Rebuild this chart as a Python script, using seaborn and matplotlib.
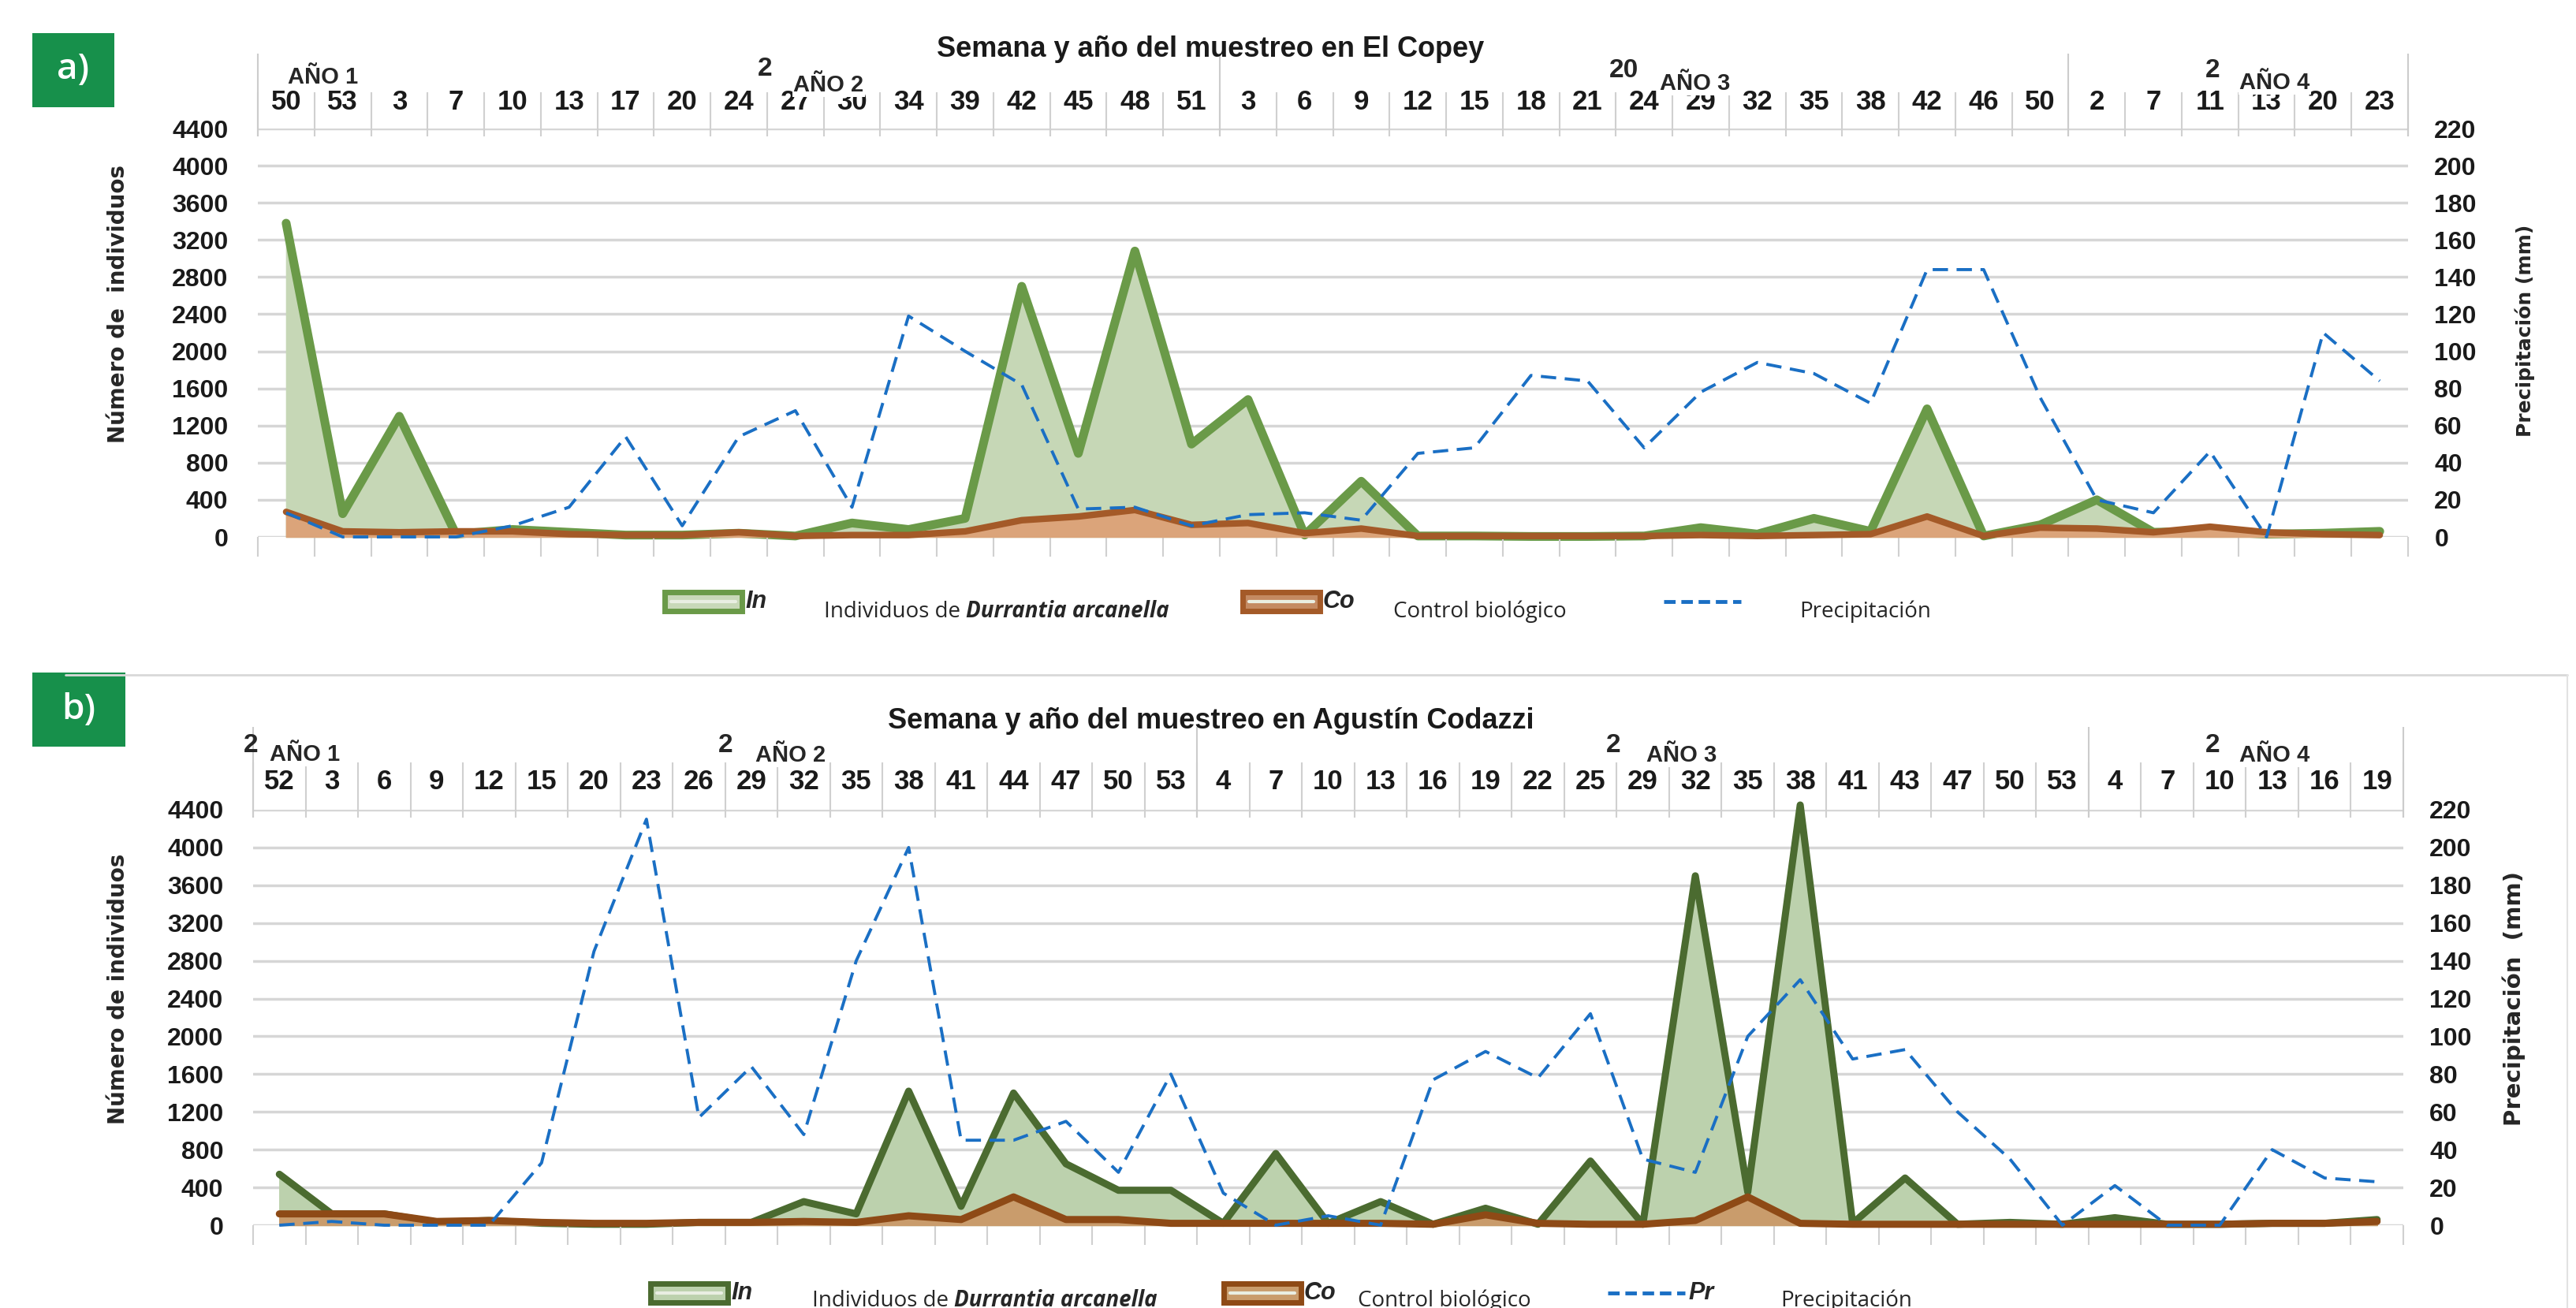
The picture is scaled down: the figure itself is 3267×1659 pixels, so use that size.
import numpy as np
import pandas as pd
import seaborn as sns
import matplotlib.pyplot as plt
from matplotlib.patches import Rectangle
from matplotlib.lines import Line2D

# ---- data ----
weeks_a = [50, 53, 3, 7, 10, 13, 17, 20, 24, 27, 30, 34, 39, 42, 45, 48, 51,
           3, 6, 9, 12, 15, 18, 21, 24, 29, 32, 35, 38, 42, 46, 50,
           2, 7, 11, 13, 20, 23]
ind_a = [3380, 250, 1300, 30, 80, 50, 20, 20, 40, 10, 150, 80, 200, 2700, 900, 3080, 1000,
         1480, 20, 600, 10, 10, 5, 5, 10, 100, 30, 200, 60, 1380, 10, 130,
         400, 50, 60, 30, 40, 60]
ctrl_a = [270, 60, 50, 60, 60, 30, 20, 20, 50, 10, 20, 20, 60, 180, 220, 290, 130,
          150, 40, 90, 10, 10, 10, 10, 10, 20, 10, 20, 30, 220, 10, 100,
          90, 50, 110, 50, 30, 20]
prec_a = [13, 0, 0, 0, 6, 16, 54, 6, 54, 68, 16, 119, 100, 82, 15, 16, 6,
          12, 13, 9, 45, 48, 87, 84, 48, 78, 94, 88, 72, 144, 144, 75,
          20, 13, 46, 0, 110, 84]

weeks_b = [52, 3, 6, 9, 12, 15, 20, 23, 26, 29, 32, 35, 38, 41, 44, 47, 50, 53,
           4, 7, 10, 13, 16, 19, 22, 25, 29, 32, 35, 38, 41, 43, 47, 50, 53,
           4, 7, 10, 13, 16, 19]
ind_b = [540, 120, 120, 30, 50, 20, 10, 10, 30, 30, 250, 120, 1420, 200, 1400, 650, 370, 370,
         20, 760, 20, 250, 10, 180, 10, 680, 10, 3700, 350, 4450, 20, 500, 10, 30, 10,
         80, 10, 10, 20, 20, 60]
ctrl_b = [120, 120, 120, 40, 50, 30, 20, 20, 30, 30, 40, 30, 100, 60, 300, 60, 60, 20,
          20, 20, 20, 20, 10, 110, 20, 10, 10, 50, 300, 20, 10, 10, 10, 10, 10,
          10, 10, 10, 20, 20, 40]
prec_b = [0, 2, 0, 0, 0, 33, 145, 215, 57, 84, 48, 140, 200, 45, 45, 55, 28, 80,
          17, 0, 5, 0, 77, 92, 78, 112, 35, 28, 100, 130, 88, 93, 60, 35, 0,
          21, 0, 0, 40, 25, 23]

year_sizes_a = [17, 15, 6]
year_sizes_b = [18, 17, 6]
year_names = ['AÑO 1', 'AÑO 2', 'AÑO 3', 'AÑO 4']

W, H = 3267, 1659

sns.set_theme(style='white')
plt.rcParams['font.family'] = ['Liberation Sans', 'DejaVu Sans']
NARROW = ['Liberation Sans Narrow', 'Liberation Sans', 'DejaVu Sans']


def fx(px):
    return px / W


def fy(py):
    return 1 - py / H


fig = plt.figure(figsize=(W / 100, H / 100), dpi=100)


def draw_panel(box, weeks, ind, ctrl, prec, year_sizes, st):
    left, top, right, bottom = box
    ax = fig.add_axes([fx(left), fy(bottom), fx(right - left), (bottom - top) / H])
    hpx = bottom - top
    n = len(weeks)
    df = pd.DataFrame({'pos': np.arange(n), 'ind': ind, 'ctrl': ctrl, 'prec': prec})

    ax.fill_between(df['pos'], df['ind'], color=st['g_fill'], zorder=1, clip_on=False)
    sns.lineplot(data=df, x='pos', y='ind', color=st['g_line'], lw=st['g_lw'],
                 ax=ax, zorder=2, clip_on=False)
    ax.fill_between(df['pos'], df['ctrl'], color=st['b_fill'], zorder=3, clip_on=False)
    sns.lineplot(data=df, x='pos', y='ctrl', color=st['b_line'], lw=st['b_lw'],
                 ax=ax, zorder=4, clip_on=False)

    ax.set_xlim(-0.5, n - 0.5)
    ax.set_ylim(0, 4400)
    ax.set_yticks(range(0, 4401, 400))
    ax.grid(axis='y', color='#d6d6d6', lw=2.5)
    ax.grid(axis='x', visible=False)
    ax.set_axisbelow(True)
    ax.set_xlabel('')
    ax.set_ylabel('')
    ax.xaxis.tick_top()
    ax.set_xticks(range(n))
    ax.set_xticklabels([str(w) for w in weeks], fontsize=25, family=NARROW,
                       weight='bold', color='#1a1a1a')
    ax.tick_params(axis='x', length=0, pad=st['xpad'])
    ax.tick_params(axis='y', length=0, pad=27, labelcolor='#1a1a1a')
    for lab in ax.get_yticklabels():
        lab.set_fontsize(23)
        lab.set_fontweight('bold')
        lab.set_family(NARROW[1:])
    for s in ax.spines.values():
        s.set_visible(False)

    # header separators and bottom tick marks
    bounds = np.arange(n + 1) - 0.5
    trans = ax.get_xaxis_transform()
    ax.vlines(bounds, 1 - 10 / hpx, 1 + st['sep_top'] / hpx, transform=trans,
              clip_on=False, color='#d0d0d0', lw=1.5)
    ax.vlines(bounds, -25 / hpx, 0, transform=trans, clip_on=False, color='#d0d0d0', lw=1.5)
    yb = np.concatenate([[0], np.cumsum(year_sizes)]) - 0.5
    ax.vlines(yb, 1 - 10 / hpx, 1 + st['year_top'] / hpx, transform=trans,
              clip_on=False, color='#cccccc', lw=1.5)

    ax2 = ax.twinx()
    sns.lineplot(data=df, x='pos', y='prec', color='#1a6fc4', lw=2.8, ax=ax2,
                 dashes=False, clip_on=False, zorder=5)
    ax2.lines[0].set_dashes((5, 2.8))
    ax2.set_ylim(0, 220)
    ax2.set_yticks(range(0, 221, 20))
    ax2.set_xlabel('')
    ax2.set_ylabel('')
    ax2.tick_params(axis='y', length=0, pad=24, labelcolor='#1a1a1a')
    for lab in ax2.get_yticklabels():
        lab.set_fontsize(23)
        lab.set_fontweight('bold')
        lab.set_family(NARROW[1:])
    ax2.grid(False)
    for s in ax2.spines.values():
        s.set_visible(False)
    return ax


style_a = dict(g_fill='#c6d7b6', g_line='#6a9a48', g_lw=8, b_fill='#dba47a',
               b_line='#a45a28', b_lw=6, xpad=12, sep_top=46, year_top=95)
style_b = dict(g_fill='#bcd1ad', g_line='#4b6b30', g_lw=6.5, b_fill='#c99c6c',
               b_line='#8e4a16', b_lw=6.5, xpad=14, sep_top=60, year_top=105)

ax_a = draw_panel((327, 163, 3054, 681), weeks_a, ind_a, ctrl_a, prec_a, year_sizes_a, style_a)
ax_b = draw_panel((321, 1027, 3048, 1554), weeks_b, ind_b, ctrl_b, prec_b, year_sizes_b, style_b)

# frame of panel b
fig.add_artist(Line2D([fx(83), fx(3256)], [fy(856), fy(856)], transform=fig.transFigure,
                      color='#d8d8d8', lw=2))
fig.add_artist(Line2D([fx(3256), fx(3256)], [fy(856), fy(1659)], transform=fig.transFigure,
                      color='#e2e2e2', lw=1.5))

# titles
fig.text(fx(1535), fy(63), 'Semana y año del muestreo en El Copey', ha='center', va='center',
         weight='bold', size=26, color='#1a1a1a')
fig.text(fx(1536), fy(915), 'Semana y año del muestreo en Agustín Codazzi', ha='center',
         va='center', weight='bold', size=26, color='#1a1a1a')

# year labels (year numbers partly hidden behind the "AÑO n" boxes)
stubs = [(970, 88, '2'), (2060, 89, '20'), (2806, 89, '2'),
         (318, 946, '2'), (920, 946, '2'), (2046, 946, '2'), (2806, 946, '2')]
for x, y, s in stubs:
    fig.text(fx(x), fy(y), s, ha='center', va='center', size=24, weight='bold', family=NARROW)
anos = [(410, 98), (1051, 108), (2150, 106), (2885, 105),
        (387, 957), (1003, 958), (2133, 958), (2885, 958)]
for i, (x, y) in enumerate(anos):
    fig.text(fx(x), fy(y), year_names[i % 4], ha='center', va='center', size=21,
             weight='bold', family=NARROW,
             bbox=dict(facecolor='white', edgecolor='none', pad=1))

# axis labels
fig.text(fx(150), fy(385), 'Número de  individuos', rotation=90, ha='center', va='center',
         weight='bold', size=20, family='DejaVu Sans')
fig.text(fx(150), fy(1254), 'Número de individuos', rotation=90, ha='center', va='center',
         weight='bold', size=20, family='DejaVu Sans')
fig.text(fx(3202), fy(419), 'Precipitación (mm)', rotation=90, ha='center', va='center',
         weight='bold', size=18, family='DejaVu Sans')
fig.text(fx(3188), fy(1266), 'Precipitación  (mm)', rotation=90, ha='center', va='center',
         weight='bold', size=21, family='DejaVu Sans')

# panel tags
for (x0, y0, x1, y1, tag) in [(41, 42, 145, 136, 'a)'), (41, 853, 159, 947, 'b)')]:
    fig.add_artist(Rectangle((fx(x0), fy(y1)), fx(x1 - x0), (y1 - y0) / H,
                             transform=fig.transFigure, facecolor='#17904b', edgecolor='none'))
    fig.text(fx((x0 + x1) / 2), fy((y0 + y1) / 2), tag, ha='center', va='center',
             color='white', size=33, weight='semibold', family='Open Sans')


# legends
def legend_row(y_h, y_t, xs, g, b, frag_pr):
    gx, bx, px_, t1, t2, t3 = xs
    for (x0, fc, ec) in [(gx, g[0], g[1]), (bx, b[0], b[1])]:
        fig.add_artist(Rectangle((fx(x0), fy(y_h + 12)), fx(98), 24 / H,
                                 transform=fig.transFigure, facecolor=fc, edgecolor=ec, lw=5))
        fig.add_artist(Line2D([fx(x0 + 8), fx(x0 + 90)], [fy(y_h), fy(y_h)],
                              transform=fig.transFigure, color='#e9eee2', lw=3))
    fig.add_artist(Line2D([fx(px_), fx(px_ + 98)], [fy(y_h), fy(y_h)], transform=fig.transFigure,
                          color='#1a6fc4', lw=3.5, dashes=(3, 1.5)))
    fig.text(fx(gx + 102), fy(y_h), 'In', ha='left', va='center', size=22, weight='bold',
             style='italic')
    fig.text(fx(bx + 102), fy(y_h), 'Co', ha='left', va='center', size=22, weight='bold',
             style='italic')
    if frag_pr:
        fig.text(fx(px_ + 102), fy(y_h), 'Pr', ha='left', va='center', size=22,
                 weight='bold', style='italic')
    t = fig.text(fx(t1), fy(y_t), 'Individuos de ', ha='left', va='center', size=20,
                 family='Open Sans')
    ax_a.annotate('Durrantia arcanella', xy=(1, 0), xycoords=t, ha='left', va='bottom',
                  size=20, family='Open Sans', weight='bold', style='italic',
                  annotation_clip=False)
    fig.text(fx(t2), fy(y_t), 'Control biológico', ha='left', va='center', size=20,
             family='Open Sans')
    fig.text(fx(t3), fy(y_t), 'Precipitación', ha='left', va='center', size=20,
             family='Open Sans')


legend_row(763, 776, (843, 1576, 2110, 1045, 1767, 2282),
           ('#c8d8b8', '#6a9a48'), ('#c48a62', '#a45a28'), False)
legend_row(1640, 1650, (825, 1552, 2039, 1030, 1722, 2258),
           ('#bcd1ad', '#4b6b30'), ('#c99c6c', '#8e4a16'), True)

fig.savefig('out.png', dpi=100, facecolor='white')
